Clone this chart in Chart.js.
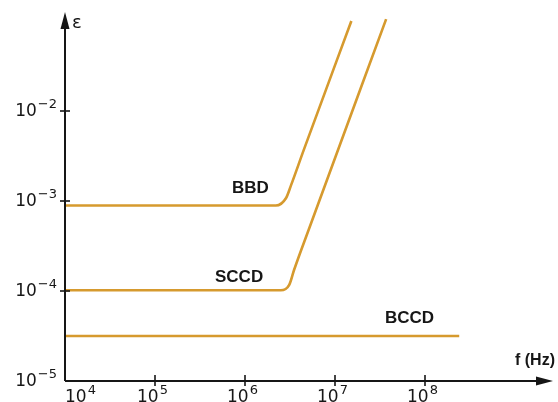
<!DOCTYPE html>
<html>
<head>
<meta charset="utf-8">
<script src="https://cdn.jsdelivr.net/npm/chart.js@4/dist/chart.umd.min.js"></script>
<style>
  body { margin: 0; background: #fff; }
  canvas { display: block; }
</style>
</head>
<body>
<canvas id="errChart" width="558" height="402"></canvas>
<script>
// frequency (Hz) and transfer inefficiency
var bbdF = [1e4, 2.2e6, 2.86e6, 3.25e6, 4.5e6, 1.52e7];
var bbdE = [8.9e-4, 8.9e-4, 1.08e-3, 1.5e-3, 3.7e-3, 1.0e-1];
var sccdF = [1e4, 2.5e6, 3.1e6, 3.5e6, 5.1e6, 3.7e7];
var sccdE = [1.02e-4, 1.02e-4, 1.17e-4, 1.7e-4, 4.8e-4, 1.05e-1];
var bccdF = [1e4, 2.4e8];
var bccdE = [3.16e-5, 3.16e-5];

var xTicks = [1e4, 1e5, 1e6, 1e7, 1e8];
var xExp = ["4", "5", "6", "7", "8"];
var yTicks = [1e-5, 1e-4, 1e-3, 1e-2];
var yExp = ["\u22125", "\u22124", "\u22123", "\u22122"];

var lineColor = "#d69a2e";
var inkColor = "#161616";

function pts(fs, es) {
  return fs.map(function (f, i) { return { x: f, y: es[i] }; });
}

function ds(label, fs, es) {
  return {
    label: label,
    data: pts(fs, es),
    borderColor: lineColor,
    borderWidth: 2.6,
    pointRadius: 0,
    fill: false,
    cubicInterpolationMode: "monotone"
  };
}

var axesPlugin = {
  id: "axesPlugin",
  afterDraw: function (chart) {
    var ctx = chart.ctx;
    var a = chart.chartArea;
    var xs = chart.scales.x, ys = chart.scales.y;
    ctx.save();
    ctx.strokeStyle = inkColor;
    ctx.fillStyle = inkColor;
    ctx.lineWidth = 2;

    // axis lines
    ctx.beginPath();
    ctx.moveTo(a.left, a.bottom);
    ctx.lineTo(a.left, a.top + 8);
    ctx.moveTo(a.left, a.bottom);
    ctx.lineTo(a.right - 8, a.bottom);
    ctx.stroke();

    // arrow heads
    ctx.beginPath();
    ctx.moveTo(a.left, a.top);
    ctx.lineTo(a.left - 4.5, a.top + 17);
    ctx.lineTo(a.left + 4.5, a.top + 17);
    ctx.closePath();
    ctx.fill();
    ctx.beginPath();
    ctx.moveTo(a.right, a.bottom);
    ctx.lineTo(a.right - 17, a.bottom - 4.5);
    ctx.lineTo(a.right - 17, a.bottom + 4.5);
    ctx.closePath();
    ctx.fill();

    ctx.lineWidth = 1.6;
    ctx.textBaseline = "alphabetic";

    // y ticks and labels
    yTicks.forEach(function (v, i) {
      var y = ys.getPixelForValue(v);
      if (i > 0) {
        ctx.beginPath();
        ctx.moveTo(a.left - 5, y);
        ctx.lineTo(a.left + 5, y);
        ctx.stroke();
      }
      ctx.font = "13px 'DejaVu Sans'";
      ctx.textAlign = "right";
      ctx.fillText(yExp[i], a.left - 8, y - 3);
      var ew = ctx.measureText(yExp[i]).width;
      ctx.font = "17px 'DejaVu Sans'";
      ctx.fillText("10", a.left - 9 - ew, y + 5);
    });

    // x ticks and labels
    xTicks.forEach(function (v, i) {
      var x = xs.getPixelForValue(v);
      if (i > 0) {
        ctx.beginPath();
        ctx.moveTo(x, a.bottom - 6);
        ctx.lineTo(x, a.bottom + 5);
        ctx.stroke();
      }
      ctx.font = "17px 'DejaVu Sans'";
      var bw = ctx.measureText("10").width;
      ctx.font = "13px 'DejaVu Sans'";
      var ew = ctx.measureText(xExp[i]).width;
      var x0 = i === 0 ? x : x - (bw + ew) / 2 - 3;
      ctx.textAlign = "left";
      ctx.font = "17px 'DejaVu Sans'";
      ctx.fillText("10", x0, a.bottom + 21);
      ctx.font = "13px 'DejaVu Sans'";
      ctx.fillText(xExp[i], x0 + bw + 1, a.bottom + 13);
    });

    // axis titles
    ctx.font = "18px 'DejaVu Sans'";
    ctx.textAlign = "left";
    ctx.fillText("\u03b5", a.left + 7, a.top + 16);
    ctx.font = "bold 16px 'Liberation Sans'";
    ctx.textAlign = "right";
    ctx.fillText("f (Hz)", a.right + 2, a.bottom - 16);

    // curve names
    ctx.font = "bold 17px 'Liberation Sans'";
    ctx.textAlign = "left";
    ctx.fillText("BBD", 232, 193);
    ctx.fillText("SCCD", 215, 282);
    ctx.fillText("BCCD", 385, 323);
    ctx.restore();
  }
};

new Chart(document.getElementById("errChart"), {
  type: "line",
  data: {
    datasets: [
      ds("BBD", bbdF, bbdE),
      ds("SCCD", sccdF, sccdE),
      ds("BCCD", bccdF, bccdE)
    ]
  },
  options: {
    responsive: false,
    animation: false,
    layout: { padding: { left: 65, right: 5, top: 12, bottom: 21 } },
    plugins: { legend: { display: false }, tooltip: { enabled: false } },
    scales: {
      x: { type: "logarithmic", min: 1e4, max: Math.pow(10, 4 + 488 / 90), display: false },
      y: { type: "logarithmic", min: 1e-5, max: Math.pow(10, -5 + 369 / 90), display: false }
    }
  },
  plugins: [axesPlugin]
});
</script>
</body>
</html>
